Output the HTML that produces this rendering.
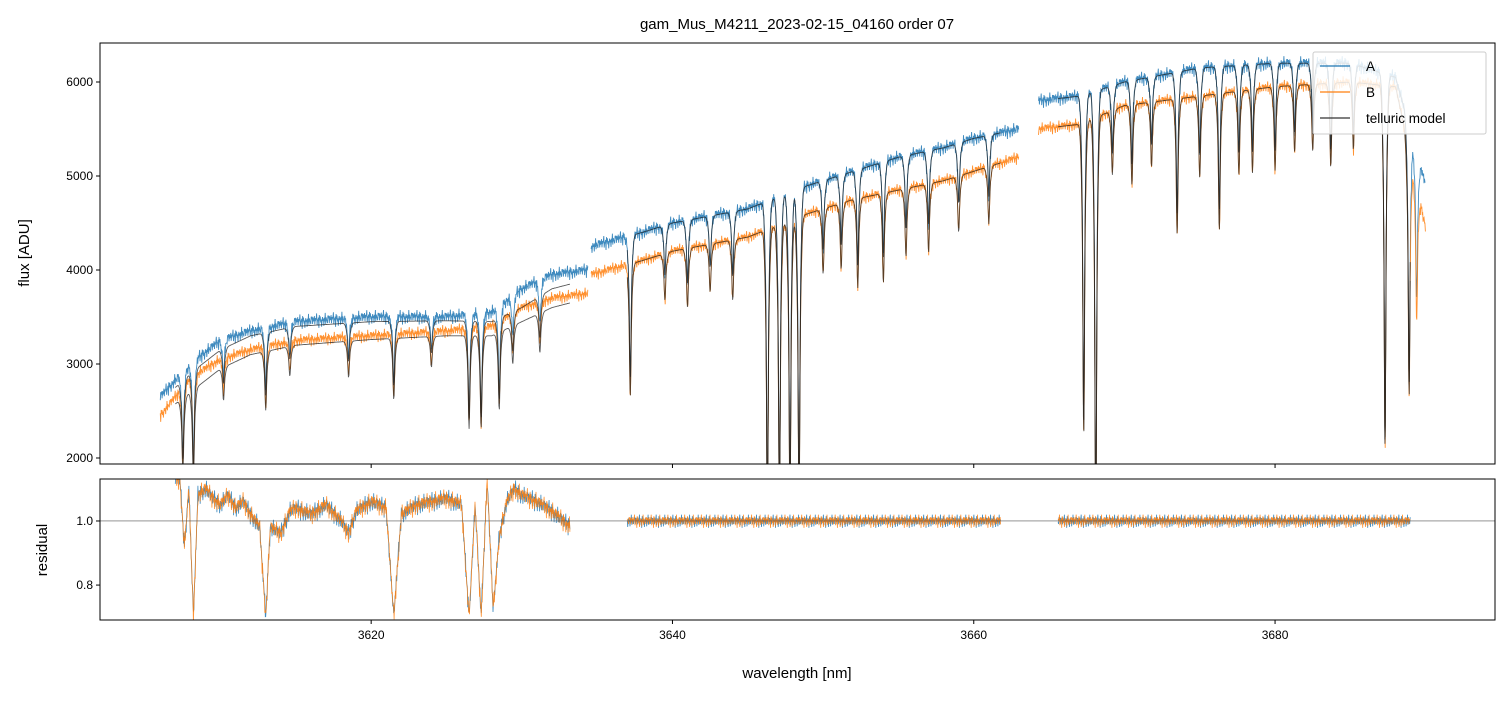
<!DOCTYPE html>
<html><head><meta charset="utf-8"><style>
body{margin:0;background:#fff;font-family:"Liberation Sans",sans-serif}
svg text{font-family:"Liberation Sans",sans-serif}
</style></head><body>
<svg id="c" width="1510" height="696" xmlns="http://www.w3.org/2000/svg">
<rect width="1510" height="696" fill="#fff"/>
<text x="797" y="29" font-size="15" text-anchor="middle">gam_Mus_M4211_2023-02-15_04160  order 07</text>
<g id="gtop"></g>
<g id="gbot"></g>
<text x="797" y="678" font-size="15" text-anchor="middle">wavelength [nm]</text>
<text transform="translate(29,253) rotate(-90)" font-size="15" text-anchor="middle">flux [ADU]</text>
<text transform="translate(47,550) rotate(-90)" font-size="15" text-anchor="middle">residual</text>
<g id="legend">
<rect x="1313" y="52" width="173" height="82" fill="#fff" fill-opacity="0.85" stroke="#ccc" rx="2"/>
<line x1="1320" y1="66" x2="1350" y2="66" stroke="#1f77b4" stroke-width="1.3"/><text x="1366" y="71" font-size="13.5">A</text>
<line x1="1320" y1="92" x2="1350" y2="92" stroke="#ff7f0e" stroke-width="1.3"/><text x="1366" y="97" font-size="13.5">B</text>
<line x1="1320" y1="118" x2="1350" y2="118" stroke="#333" stroke-width="1.3"/><text x="1366" y="123" font-size="13.5">telluric model</text>
</g>
</svg>
<script>
// ---- data ----
const contAw=[3606,3608,3610,3612,3615,3620,3625,3628,3630,3632,3634.4, 3634.6,3638,3640,3645,3649,3652,3655,3658,3660,3663, 3664.3,3667,3670,3675,3680,3685,3688,3690];
const contAv=[2650,3000,3250,3350,3450,3500,3500,3550,3800,3950,4000, 4250,4400,4500,4650,4900,5050,5200,5300,5400,5500, 5800,5850,6000,6150,6200,6200,6050,4900];
const contBv=[2450,2850,3050,3150,3250,3300,3350,3400,3600,3700,3750, 3950,4100,4200,4350,4600,4750,4850,4950,5050,5200, 5500,5550,5750,5850,5950,6000,5950,4450];
const modelAv=[2600,2900,3150,3300,3400,3450,3460,3450,3600,3800,3900, 4250,4400,4500,4650,4900,5050,5200,5300,5400,5500, 5800,5850,6000,6150,6200,6200,6050,4900];
const modelBv=[2450,2700,2950,3100,3200,3260,3300,3300,3450,3600,3700, 3950,4100,4200,4350,4600,4750,4850,4950,5050,5200, 5500,5550,5750,5850,5950,6000,5950,4450];
const lineW=[3607.5,3608.2,3610.2,3613,3614.6,3618.5,3621.5,3624,3626.5,3627.3,3628.5,3629.4,3631.2,3637.2,3639.5,3641,3642.5,3644,3646.3,3647.1,3647.8,3648.4,3650,3651.2,3652.3,3654,3655.5,3657,3659,3661,3667.3,3668.1,3669.2,3670.5,3671.8,3673.5,3675,3676.3,3677.6,3678.5,3680,3681.3,3682.5,3683.7,3685.2,3687.3,3688.9,3689.4];
const lineD=[0.3,0.35,0.12,0.2,0.1,0.12,0.2,0.1,0.3,0.3,0.25,0.12,0.12,0.35,0.12,0.15,0.12,0.15,0.7,0.7,0.7,0.7,0.15,0.15,0.2,0.2,0.15,0.15,0.12,0.12,0.6,0.8,0.12,0.15,0.12,0.25,0.15,0.25,0.15,0.15,0.15,0.12,0.12,0.15,0.12,0.65,0.5,0.3];
const residW=[3607.3,3607.6,3607.9,3608.2,3608.5,3609,3609.5,3610,3610.5,3611,3611.5,3612,3612.6,3613,3613.3,3614,3614.6,3615,3616,3617,3618,3618.5,3619,3620,3621,3621.5,3622,3623,3624,3625,3626,3626.5,3626.9,3627.3,3627.7,3628.1,3628.5,3629,3629.5,3630,3631,3632,3633,3633.3];
const residV=[1.13,0.92,1.10,0.70,1.08,1.10,1.07,1.05,1.08,1.04,1.06,1.02,0.98,0.70,0.98,0.96,1.03,1.04,1.02,1.05,1.00,0.96,1.03,1.06,1.04,0.70,1.02,1.05,1.06,1.07,1.05,0.70,1.05,0.70,1.13,0.72,0.95,1.06,1.10,1.08,1.06,1.03,0.99,0.98];
const texture=[0.3,-0.5,0.8,-0.2,0.1,-0.9,0.6,0.2,-0.4,0.9,-0.7,0.0,0.5,-0.3,0.7,-0.6,0.2,-0.1,0.4,-0.8,1.0,-0.2,0.3,-0.5,0.6,-1.0,0.1,0.8,-0.4,0.2,-0.6,0.5,-0.1,0.9,-0.3,0.4,-0.7];
const xTicks=[3620,3640,3660,3680], yTicks=[2000,3000,4000,5000,6000], rTicks=[0.8,1.0];
const segs=[[3606,3634.4],[3634.6,3663],[3664.3,3690]];
const modelSegs=[[3607,3633.2],[3637,3661.8],[3665.6,3689]];
// ---- axes ----
const L=100,R=1495,T1=43,B1=464,T2=479,B2=620;
const X=w=>L+(w-3602.0)/(3694.6-3602.0)*(R-L);
const Y=v=>T1+(6415-v)/(6415-1936)*(B1-T1);
const YR=v=>T2+(1.131-v)/(1.131-0.691)*(B2-T2);
const NS="http://www.w3.org/2000/svg";
function el(p,t,a){const e=document.createElementNS(NS,t);for(const k in a)e.setAttribute(k,a[k]);p.appendChild(e);return e;}
function interp(xs,ys,x){for(let i=0;i<xs.length-1;i++){if(x>=xs[i]&&x<=xs[i+1]){const t=(x-xs[i])/(xs[i+1]-xs[i]||1);return ys[i]+t*(ys[i+1]-ys[i]);}}return x<xs[0]?ys[0]:ys[ys.length-1];}
function absorb(x){let f=1;for(let i=0;i<lineW.length;i++){const d=(x-lineW[i])/0.16;const e=(x-lineW[i])/0.06;if(Math.abs(d)<5)f*=1-lineD[i]*(0.45*Math.exp(-d*d)+0.55*Math.exp(-e*e));}return f;}
function tex(k){return texture[k%texture.length]+0.7*texture[(k*7+3)%texture.length]+0.5*texture[(k*13+5)%texture.length];}
const svgRoot=document.getElementById('c');
const gTop=document.getElementById('gtop'),gBot=document.getElementById('gbot');
const defs=el(svgRoot,'defs',{});
const c1=el(defs,'clipPath',{id:'c1'});el(c1,'rect',{x:L,y:T1,width:R-L,height:B1-T1});
const c2=el(defs,'clipPath',{id:'c2'});el(c2,'rect',{x:L,y:T2,width:R-L,height:B2-T2});
function series(g,vals,ranges,noise,color,name,clip,op,off){
  let d='';let k=off;
  ranges.forEach(([a,b])=>{let first=true;
    for(let x=a;x<=b;x+=0.03){k++;let v=interp(contAw,vals,x)*absorb(x);
      if(noise)v+=noise*tex(k);
      d+=(first?'M':'L')+X(x).toFixed(1)+','+Y(v).toFixed(1);first=false;}});
  const p=el(g,'path',{d:d,fill:'none',stroke:color,'stroke-width':0.9,'stroke-opacity':op,'clip-path':'url(#'+clip+')'});
  
  
}
series(gTop,contAv,segs,45,'#1f77b4','series-a',"c1",0.85,0);
series(gTop,contBv,segs,40,'#ff7f0e','series-b',"c1",0.85,17);
series(gTop,modelAv,modelSegs,0,'#222','telluric-model-a',"c1",0.75,0);
series(gTop,modelBv,modelSegs,0,'#222','telluric-model-b',"c1",0.75,0);
function resid(color,name,amp,off){
  let d='';let k=off;
  segs.forEach(([a,b],si)=>{const [ma,mb]=modelSegs[si];let first=true;
    for(let x=Math.max(a,ma);x<=Math.min(b,mb);x+=0.03){k++;
      let v=si===0?interp(residW,residV,x):1.0;
      v+=amp*tex(k)*(si===0?1.5:1);
      d+=(first?'M':'L')+X(x).toFixed(1)+','+YR(v).toFixed(1);first=false;}});
  const p=el(gBot,'path',{d:d,fill:'none',stroke:color,'stroke-width':0.8,'stroke-opacity':0.85,'clip-path':'url(#c2)'});
  
  
}
resid('#1f77b4','residual-a',0.012,0);
resid('#ff7f0e','residual-b',0.012,11);
el(gBot,'line',{x1:L,x2:R,y1:YR(1),y2:YR(1),stroke:'#555','stroke-width':0.6});
[[T1,B1],[T2,B2]].forEach(([t,b])=>el(svgRoot,'rect',{x:L,y:t,width:R-L,height:b-t,fill:'none',stroke:'#000','stroke-width':1}));
xTicks.forEach(w=>{el(gTop,'line',{x1:X(w),x2:X(w),y1:B1,y2:B1+4,stroke:'#000'});
  el(gBot,'line',{x1:X(w),x2:X(w),y1:B2,y2:B2+4,stroke:'#000'});
  const t=el(gBot,'text',{x:X(w),y:B2+19,'font-size':12,'text-anchor':'middle'});t.textContent=w;
  
  });
yTicks.forEach(v=>{el(gTop,'line',{x1:L-4,x2:L,y1:Y(v),y2:Y(v),stroke:'#000'});
  const t=el(gTop,'text',{x:L-7,y:Y(v)+4,'font-size':12,'text-anchor':'end'});t.textContent=v;
  
  });
rTicks.forEach(v=>{el(gBot,'line',{x1:L-4,x2:L,y1:YR(v),y2:YR(v),stroke:'#000'});
  const t=el(gBot,'text',{x:L-7,y:YR(v)+4,'font-size':12,'text-anchor':'end'});t.textContent=v.toFixed(1);
  
  });
svgRoot.appendChild(document.getElementById('legend'));
</script>
</body></html>
